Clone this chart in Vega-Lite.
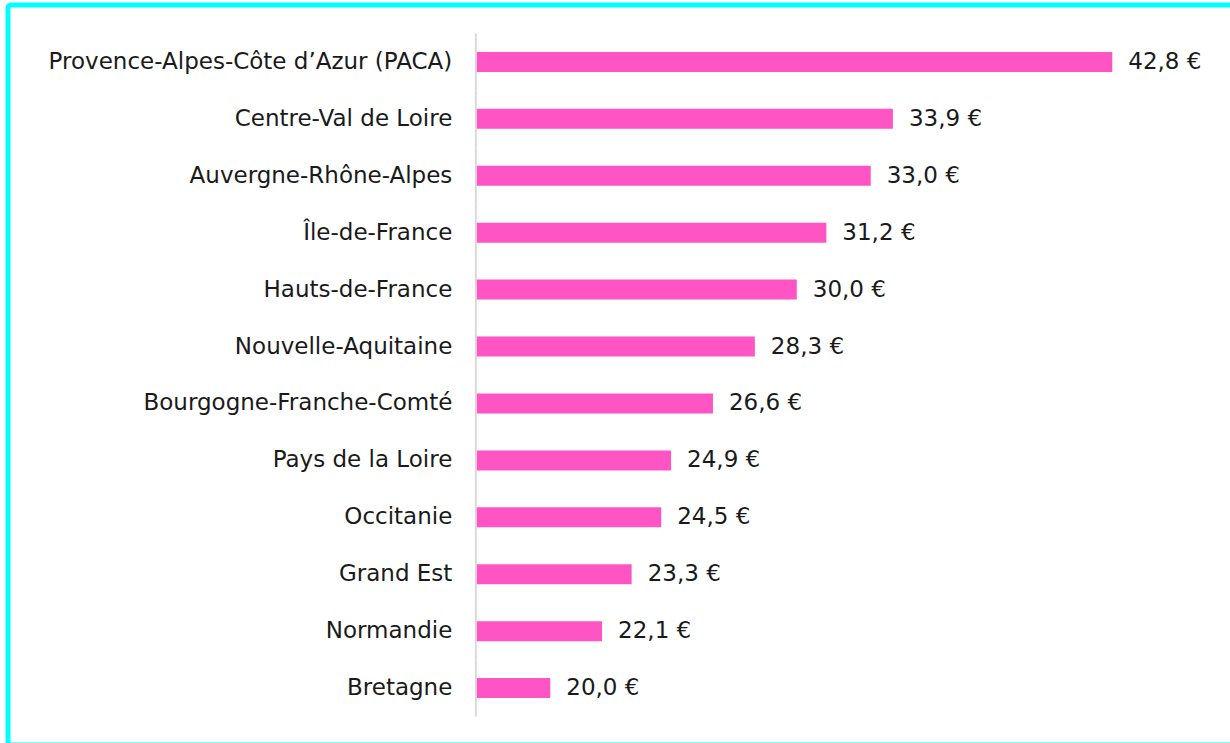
{
  "$schema": "https://vega.github.io/schema/vega-lite/v6.json",
  "width": 1230,
  "height": 740,
  "autosize": {"type": "none"},
  "padding": {"left": 8, "top": 5, "right": 0, "bottom": 0},
  "background": "white",
  "config": {
    "view": {"stroke": "#00FFFF", "strokeWidth": 5, "cornerRadius": 3},
    "locale": {"number": {"decimal": ",", "thousands": " ", "grouping": [3], "currency": ["", " €"]}},
    "text": {"font": "DejaVu Sans", "fontSize": 23, "color": "#1a1a1a"}
  },
  "data": {
    "values": [
      {"region": "Provence-Alpes-Côte d’Azur (PACA)", "value": 42.8},
      {"region": "Centre-Val de Loire", "value": 33.9},
      {"region": "Auvergne-Rhône-Alpes", "value": 33.0},
      {"region": "Île-de-France", "value": 31.2},
      {"region": "Hauts-de-France", "value": 30.0},
      {"region": "Nouvelle-Aquitaine", "value": 28.3},
      {"region": "Bourgogne-Franche-Comté", "value": 26.6},
      {"region": "Pays de la Loire", "value": 24.9},
      {"region": "Occitanie", "value": 24.5},
      {"region": "Grand Est", "value": 23.3},
      {"region": "Normandie", "value": 22.1},
      {"region": "Bretagne", "value": 20.0}
    ]
  },
  "encoding": {
    "y": {"field": "region", "type": "nominal", "sort": null, "axis": null,
          "scale": {"paddingInner": 0, "paddingOuter": 0.5}}
  },
  "layer": [
    {
      "mark": {"type": "rect", "color": "#d9d9d9"},
      "encoding": {
        "x": {"datum": 16.94, "type": "quantitative", "scale": {"domain": [-2, 47.9], "nice": false, "zero": false}, "axis": null},
        "x2": {"datum": 17.02}
      }
    },
    {
      "mark": {"type": "bar", "color": "#FF55C4", "size": 20},
      "encoding": {
        "x": {"field": "value", "type": "quantitative"},
        "x2": {"datum": 17.02}
      }
    },
    {
      "mark": {"type": "text", "align": "right", "baseline": "middle", "dx": -24},
      "encoding": {
        "x": {"datum": 17, "type": "quantitative"},
        "text": {"field": "region"}
      }
    },
    {
      "mark": {"type": "text", "align": "left", "baseline": "middle", "dx": 16},
      "encoding": {
        "x": {"field": "value", "type": "quantitative"},
        "text": {"field": "value", "type": "quantitative", "format": "$.1f"}
      }
    }
  ]
}
